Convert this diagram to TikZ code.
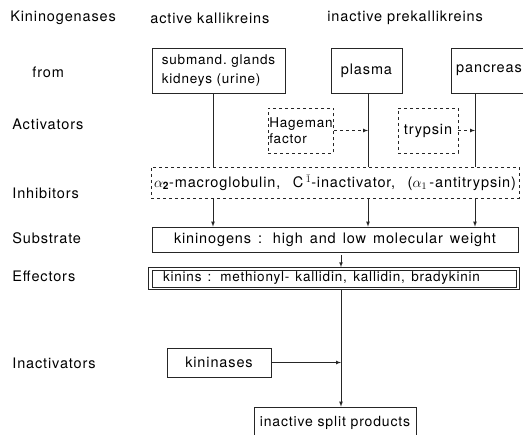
\documentclass[tikz,border=0pt]{standalone}
\usepackage{fontspec}
\setmainfont{TeX Gyre Heros}[LetterSpace=6]
\usepackage{amsmath}
\usetikzlibrary{positioning}

\begin{document}
\begin{tikzpicture}[x=1pt,y=-1pt,draw=black!85,>=latex,line width=0.7pt,
	font=\fontsize{14.5}{19}\selectfont]
	\tikzstyle{lbl}=[anchor=west,inner sep=0pt]
	\tikzstyle{box}=[draw,inner sep=2pt,align=left]
	\tikzstyle{dbox}=[box,dashed]
	\tikzstyle{small}=[font=\fontsize{13.5}{19}\selectfont]
	\useasboundingbox (0,0) rectangle (523,435);
	\clip (0,0) rectangle (523,435);
	% row labels
	\node[lbl] (l-kin) at (10,18) {Kininogenases};
	\node[lbl] (l-from) at (32,72) {from};
	\node[lbl] (l-act) at (12,124) {Activators};
	\node[lbl] (l-inh) at (12,193) {Inhibitors};
	\node[lbl] (l-sub) at (12,238) {Substrate};
	\node[lbl] (l-eff) at (12,276) {Effectors};
	\node[lbl] (l-ina) at (12,363) {Inactivators};
	\node[lbl] (h-act) at (150,18) {active kallikreins};
	\node[lbl] (h-ina) at (327,18) {inactive prekallikreins};
	% sources
	\node[box,small,minimum width=133pt,minimum height=45pt] (submand) at (218.5,70.5)
		{submand.\ glands\\kidneys (urine)};
	\node[box,minimum width=71pt,minimum height=45pt] (plasma) at (366.5,70.5) {plasma};
	\node[box,minimum width=76pt,minimum height=45pt] (pancreas) at (489,70.5) {pancreas};
	% activators
	\node[dbox,minimum width=62pt,minimum height=45pt,inner sep=1pt,
		font=\fontsize{13.5}{16}\selectfont] (hageman) at (301,130.5) {Hageman\\factor};
	\node[dbox,minimum width=60pt,minimum height=45pt] (trypsin) at (428,130.5) {trypsin};
	% inhibitors, substrate, effectors
	\node[dbox,minimum width=368pt,minimum height=31pt,inner sep=0pt] (inhib) at (335,182.5)
		{\makebox[362pt][s]{$\alpha_{\mathbf{2}}$-macroglobulin, C\,$^{\bar{1}}$-inactivator, ($\alpha_{1}$\,-antitrypsin)}};
	\node[box,minimum width=366pt,minimum height=25pt] (subst) at (335,239.5)
		{\makebox[322pt][s]{kininogens : high and low molecular weight}};
	\node[box,small,line width=0.6pt,minimum width=364pt,minimum height=17pt,
		inner xsep=4pt,inner ysep=1pt] (effect) at (334,278.5)
		{\makebox[356pt][l]{\hspace{7pt}\makebox[317pt][s]{kinins : methionyl- kallidin, kallidin, bradykinin}}};
	\draw[line width=0.6pt] ([xshift=-3pt,yshift=2.5pt]effect.north west)
		rectangle ([xshift=3pt,yshift=-2.5pt]effect.south east);
	% inactivation
	\node[box,minimum width=104pt,minimum height=29pt] (kininases) at (219,362.5) {kininases};
	\node[box,font=\fontsize{14}{19}\selectfont,minimum width=162pt,minimum height=32pt]
		(split) at (335,423) {inactive split products};
	% columns of the flow
	\coordinate (c1) at (213,0);
	\coordinate (c2) at (368,0);
	\coordinate (c3) at (475,0);
	\coordinate (c4) at (341,0);
	\draw (submand.south -| c1) -- (inhib.north -| c1);
	\draw (plasma.south -| c2) -- (inhib.north -| c2);
	\draw (pancreas.south -| c3) -- (inhib.north -| c3);
	\draw[->,dashed] (hageman.east) -- (hageman.east -| c2);
	\draw[->,dashed] (trypsin.east) -- (trypsin.east -| c3);
	\foreach \c in {c1,c2,c3}
		\draw[->] (inhib.south -| \c) -- (subst.north -| \c);
	\draw[->] ([yshift=-2.5pt]subst.south -| c4) -- ([yshift=2.5pt]effect.north -| c4);
	\draw[->] ([yshift=-2.5pt]effect.south -| c4) -- (split.north -| c4);
	\draw[->] (kininases.east) -- (kininases.east -| c4);
\end{tikzpicture}
\end{document}
